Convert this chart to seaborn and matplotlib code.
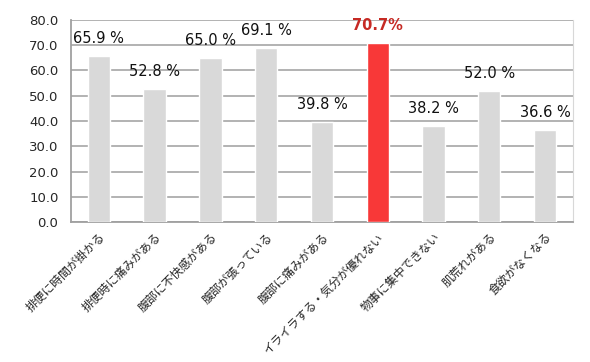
import matplotlib
matplotlib.use('Agg')
import matplotlib.pyplot as plt
import seaborn as sns
import pandas as pd

# symptoms and share of respondents (%)
categories = ['排便に時間が掛かる', '排便時に痛みがある', '腹部に不快感がある', '腹部が張っている',
              '腹部に痛みがある', 'イライラする・気分が優れない', '物事に集中できない',
              '肌荒れがある', '食欲がなくなる']
values = [65.9, 52.8, 65.0, 69.1, 39.8, 70.7, 38.2, 52.0, 36.6]
highlight = 'イライラする・気分が優れない'
yticks = [0, 10, 20, 30, 40, 50, 60, 70, 80]

sns.set_style('white')
plt.rcParams['font.family'] = ['DejaVu Sans', 'Noto Sans CJK JP']

df = pd.DataFrame({'cat': categories, 'val': values})
palette = {c: ('#f83838' if c == highlight else '#d9d9d9') for c in categories}

fig = plt.figure(figsize=(5.9, 3.62), dpi=100)
ax = fig.add_axes([0.1203, 0.3867, 0.8507, 0.5581])
sns.barplot(data=df, x='cat', y='val', hue='cat', palette=palette, width=0.4,
            legend=False, ax=ax, zorder=3, saturation=1)

ax.set_ylim(0, 80)
ax.set_xlim(-0.5, len(categories) - 0.5)
ax.set_yticks(yticks)
ax.set_yticklabels([f'{v:.1f}' for v in yticks], fontsize=9.5)
ax.yaxis.grid(True, color='#a6a6a6', linewidth=1.2, zorder=0)
ax.set_axisbelow(True)

ax.set_xticks(range(len(categories)))
ax.set_xticklabels(categories, rotation=45, ha='right', rotation_mode='anchor', fontsize=8.5)
ax.set_xticks([i - 0.5 for i in range(len(categories) + 1)], minor=True)
ax.tick_params(axis='x', which='major', length=0, pad=6)
ax.tick_params(axis='x', which='minor', length=5, width=1.2, color='#a0a0a0', direction='out')
ax.tick_params(axis='y', length=5, width=1.2, color='#a0a0a0', direction='out', pad=4)
ax.set_xlabel('')
ax.set_ylabel('')

for side in ['left', 'bottom']:
    ax.spines[side].set_color('#a0a0a0')
    ax.spines[side].set_linewidth(1.3)
ax.spines['right'].set_color('#d8d8d8')
ax.spines['top'].set_visible(False)

for i, (c, v) in enumerate(zip(categories, values)):
    if c == highlight:
        ax.annotate(f'{v:.1f}%', (i, v), xytext=(0, 13), textcoords='offset points',
                    ha='center', va='center', fontsize=10.5, fontweight='bold', color='#c62a24')
    else:
        ax.annotate(f'{v:.1f} %', (i, v), xytext=(0, 12.5), textcoords='offset points',
                    ha='center', va='center', fontsize=10.5, color='#111111')

fig.savefig('out.png', dpi=100)
